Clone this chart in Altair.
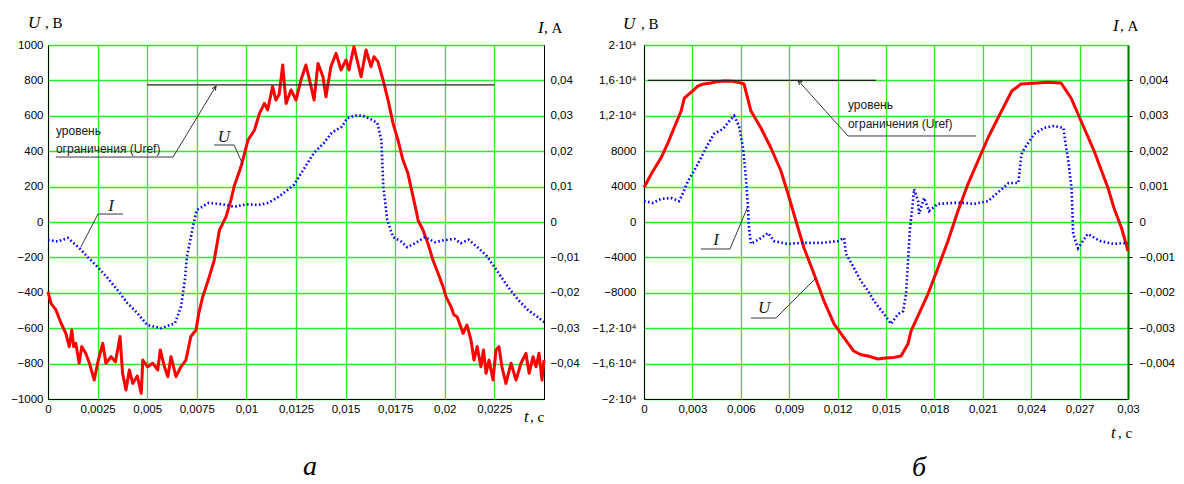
import altair as alt
import pandas as pd

# ---------------- Panel "а" (left) ----------------
a_U_t = [0, 0.00015, 0.0004, 0.00066, 0.0009, 0.00107, 0.0012, 0.00129, 0.0014, 0.00157,
         0.0017, 0.0019, 0.00209, 0.00233, 0.0025, 0.00276, 0.00292, 0.00318, 0.0034, 0.00363,
         0.00376, 0.00393, 0.0041, 0.00427, 0.0045, 0.0047, 0.00478, 0.00502, 0.00528, 0.00553,
         0.00566, 0.00587, 0.00604, 0.0062, 0.00645, 0.0067, 0.00695, 0.0072, 0.00746, 0.0076,
         0.0078, 0.00813, 0.00838, 0.00864, 0.00897, 0.00922, 0.00938, 0.00973, 0.01008, 0.01041,
         0.01066, 0.01091, 0.01107, 0.01132, 0.01149, 0.01165, 0.01183, 0.012, 0.01225, 0.0125,
         0.01275, 0.013, 0.01326, 0.01341, 0.01361, 0.01386, 0.01401, 0.01426, 0.01452, 0.01477,
         0.01502, 0.01517, 0.01542, 0.01578, 0.01603, 0.01628, 0.01643, 0.01663, 0.01689, 0.01714,
         0.01739, 0.01764, 0.01789, 0.01814, 0.0184, 0.01855, 0.01865, 0.0189, 0.01915, 0.0194,
         0.01966, 0.01991, 0.02006, 0.02031, 0.02046, 0.02062, 0.02092, 0.02112, 0.02132, 0.02147,
         0.02163, 0.02182, 0.02195, 0.02208, 0.02223, 0.02243, 0.02258, 0.02273, 0.02288, 0.02308,
         0.02334, 0.02359, 0.02384, 0.02409, 0.02425, 0.02445, 0.0246, 0.02475, 0.0249, 0.025]
a_U = [-393, -460, -497, -572, -629, -704, -610, -704, -685, -798,
       -704, -742, -798, -893, -798, -685, -798, -761, -790, -647,
       -855, -949, -836, -912, -870, -968, -780, -818, -798, -836,
       -723, -818, -874, -761, -874, -818, -780, -647, -610, -516,
       -422, -309, -215, -46, 29, 124, 200, 313, 463, 520,
       614, 670, 633, 765, 689, 720, 887, 670, 746, 689,
       802, 887, 765, 689, 896, 821, 708, 878, 953, 859,
       915, 859, 990, 821, 972, 878, 934, 906, 802, 689,
       557, 463, 350, 275, 143, 68, 11, -45, -121, -215,
       -290, -365, -422, -478, -525, -535, -629, -582, -667, -780,
       -704, -818, -723, -855, -780, -893, -723, -704, -818, -912,
       -798, -893, -798, -742, -855, -761, -818, -742, -893, -780]

a_I_t = [0, 0.0005, 0.001, 0.0016, 0.002, 0.0025, 0.003, 0.0035, 0.004, 0.0045,
         0.005, 0.0057, 0.0064, 0.0067, 0.0069, 0.007, 0.0073, 0.0075, 0.0081, 0.0088,
         0.0094, 0.01, 0.0106, 0.0111, 0.0116, 0.0124, 0.0128, 0.0134, 0.0139, 0.0143,
         0.0148, 0.0151, 0.0156, 0.016, 0.0166, 0.0168, 0.0169, 0.0171, 0.0174, 0.0178,
         0.0181, 0.0185, 0.019, 0.0195, 0.02, 0.0205, 0.0208, 0.0212, 0.0217, 0.0221,
         0.0225, 0.0229, 0.0233, 0.0237, 0.0242, 0.0246, 0.025]
a_I = [-0.0051, -0.0055, -0.0045, -0.0075, -0.0099, -0.0127, -0.0158, -0.0192, -0.0229, -0.0257,
       -0.0291, -0.03, -0.0286, -0.024, -0.0164, -0.0099, -0.0014, 0.0034, 0.0054, 0.005,
       0.0043, 0.005, 0.0048, 0.0054, 0.007, 0.0105, 0.0141, 0.0195, 0.0223, 0.0252,
       0.0269, 0.0294, 0.0302, 0.0298, 0.028, 0.0232, 0.01, 0.0006, -0.0043, -0.0055,
       -0.0071, -0.006, -0.0043, -0.0057, -0.0051, -0.0048, -0.006, -0.005, -0.0074, -0.0095,
       -0.0127, -0.016, -0.0192, -0.022, -0.0249, -0.0265, -0.0283]

a_t_ticks = [0, 0.0025, 0.005, 0.0075, 0.01, 0.0125, 0.015, 0.0175, 0.02, 0.0225]
a_U_ticks = [-1000, -800, -600, -400, -200, 0, 200, 400, 600, 800, 1000]
a_I_ticks = [-0.04, -0.03, -0.02, -0.01, 0, 0.01, 0.02, 0.03, 0.04]

# annotation segments (t1, U1, t2, U2, width)
a_segments = [
    (0.005, 775, 0.0225, 775, 1.4),
    (0.0063, 367, 0.00847, 768, 0.9),
    (0.0004, 367, 0.0063, 367, 0.9),
    (0.00837, 435, 0.00938, 435, 0.9),
    (0.00938, 435, 0.00983, 322, 0.9),
    (0.00252, 45, 0.00378, 45, 0.9),
    (0.00252, 45, 0.00166, -141, 0.9),
]
a_arrow = [(0.00847, 768, 32)]
a_notes = [(0.0004, 491, "уровень"), (0.0004, 390, "ограничения (Uref)")]
a_letters = [(0.00887, 452, "U"), (0.00318, 62, "I")]

# ---------------- Panel "б" (right) ----------------
b_U_t = [0, 0.0005, 0.00105, 0.0015, 0.00186, 0.0023, 0.0025, 0.003, 0.00335, 0.0037,
         0.00415, 0.0045, 0.005, 0.0055, 0.0058, 0.0062, 0.00663, 0.00725, 0.00787, 0.00849,
         0.00893, 0.00942, 0.00992, 0.01054, 0.01116, 0.01178, 0.0124, 0.013, 0.01345, 0.01388,
         0.0145, 0.015, 0.0155, 0.01593, 0.01636, 0.01655, 0.0176, 0.01822, 0.01884, 0.01946,
         0.02008, 0.0207, 0.02132, 0.02194, 0.0228, 0.02337, 0.0244, 0.025, 0.02585, 0.02647,
         0.02709, 0.0279, 0.02876, 0.02913, 0.0296, 0.03]
b_U = [3900, 5600, 7230, 9000, 10620, 12540, 14000, 14800, 15370, 15600,
       15700, 15850, 15930, 15900, 15800, 15590, 12540, 10620, 8360, 5760,
       3160, 110, -2940, -5880, -8930, -11520, -13100, -14580, -15000, -15140,
       -15480, -15370, -15300, -15140, -13790, -12320, -8140, -5200, -2150, 1240,
       4290, 6890, 9490, 11750, 14800, 15590, 15710, 15800, 15710, 14010,
       11410, 8020, 3840, 1580, -680, -3280]

b_I_t = [0, 0.00056, 0.00105, 0.00167, 0.00217, 0.00242, 0.00273, 0.0031, 0.00353, 0.00397,
         0.00434, 0.0049, 0.00539, 0.00558, 0.00589, 0.00614, 0.00632, 0.00645, 0.00651, 0.00663,
         0.00725, 0.00769, 0.00806, 0.00893, 0.00973, 0.01097, 0.01203, 0.0124, 0.01252, 0.01302,
         0.01345, 0.01389, 0.01426, 0.01488, 0.01531, 0.01575, 0.01606, 0.01624, 0.01637, 0.01649,
         0.01667, 0.01674, 0.01699, 0.01705, 0.01736, 0.01767, 0.01822, 0.01922, 0.01984, 0.02046,
         0.02132, 0.0217, 0.0226, 0.0232, 0.0234, 0.0236, 0.0242, 0.0248, 0.0254, 0.026,
         0.0261, 0.0263, 0.0265, 0.02655, 0.0266, 0.0269, 0.0275, 0.0283, 0.0291, 0.0299, 0.03]
b_I = [0.00059, 0.00054, 0.00065, 0.00068, 0.00059, 0.00082, 0.00116, 0.00144, 0.00181, 0.0022,
       0.00249, 0.00263, 0.00291, 0.003, 0.00271, 0.00209, 0.00124, 0.0004, -0.00017, -0.00062,
       -0.00045, -0.00031, -0.00054, -0.00062, -0.00059, -0.00059, -0.00054, -0.00045, -0.0009, -0.0013,
       -0.00167, -0.00195, -0.00223, -0.0026, -0.00288, -0.0026, -0.00252, -0.00204, -0.0011, -0.00017,
       0.00059, 0.00093, 0.00059, 0.00023, 0.00068, 0.00031, 0.00051, 0.00054, 0.00054, 0.00051,
       0.00059, 0.00074, 0.0011, 0.0011, 0.00192, 0.00209, 0.00249, 0.00266, 0.00271, 0.00266,
       0.00229, 0.00172, 0.00096, 0.0004, -0.00034, -0.00074, -0.00034, -0.00054, -0.00062, -0.00059, -0.0006]

b_t_ticks = [0, 0.003, 0.006, 0.009, 0.012, 0.015, 0.018, 0.021, 0.024, 0.027, 0.03]
b_U_ticks = [-20000, -16000, -12000, -8000, -4000, 0, 4000, 8000, 12000, 16000, 20000]
b_I_ticks = [-0.004, -0.003, -0.002, -0.001, 0, 0.001, 0.002, 0.003, 0.004]

b_segments = [
    (0.00025, 16000, 0.01438, 16000, 1.4),
    (0.01264, 9720, 0.00955, 16000, 0.9),
    (0.01264, 9720, 0.02058, 9720, 0.9),
    (0.00353, -3050, 0.00533, -3050, 0.9),
    (0.00533, -3050, 0.00645, 1810, 0.9),
    (0.00663, -10850, 0.00818, -10850, 0.9),
    (0.00818, -10850, 0.01066, -6330, 0.9),
]
b_arrow = [(0.00955, 16000, 317)]
b_notes = [(0.01264, 12770, "уровень"), (0.01264, 10620, "ограничения (Uref)")]
b_letters = [(0.00446, -2600, "I"), (0.00744, -10280, "U")]

GREEN = "#2aec2a"
SANS = "Liberation Sans"
SERIF = "Liberation Serif"
TICK_FS = 11.5


def ptext(x, y, s, size=15, italic=False, align="left"):
    return alt.Chart(pd.DataFrame({"s": [s]})).mark_text(
        font=SERIF, fontSize=size, fontStyle="italic" if italic else "normal",
        align=align, baseline="alphabetic", color="black"
    ).encode(x=alt.value(x), y=alt.value(y), text="s:N")


def panel(U_t, U_v, I_t, I_v, t_max, t_ticks, u_max, u_ticks, u_expr,
          i_max, i_ticks, segments, arrow, notes, letters, width, height,
          right_color, right_width, right_ticks, right_pad, left_pad, outer):
    xs = alt.Scale(domain=[0, t_max], nice=False, zero=False)
    ys = alt.Scale(domain=[-u_max, u_max], nice=False, zero=False)
    xaxis = alt.Axis(values=t_ticks, labelExpr="replace(toString(datum.value), '.', ',')",
                     grid=True, gridColor=GREEN, gridWidth=1.3, ticks=False,
                     domainColor="black", domainWidth=1, labelFont=SANS, labelFontSize=TICK_FS,
                     labelColor="black", labelPadding=4, title=None, labelFlush=False,
                     labelOverlap=False)
    yaxis = alt.Axis(values=u_ticks, labelExpr=u_expr, grid=True, gridColor=GREEN,
                     gridWidth=1.3, ticks=False, domainColor="black", domainWidth=1,
                     labelFont=SANS, labelFontSize=TICK_FS, labelColor="black",
                     labelPadding=left_pad, title=None, labelOverlap=False)

    def X(f):
        return alt.X(f, scale=xs, axis=xaxis, title=None)

    def Y(f):
        return alt.Y(f, scale=ys, axis=yaxis, title=None)

    red = alt.Chart(pd.DataFrame({"t": U_t, "U": U_v})).mark_line(
        color="#ff0000", strokeWidth=3, strokeJoin="round"
    ).encode(x=X("t:Q"), y=Y("U:Q"))

    seg_df = pd.DataFrame(segments, columns=["t1", "U1", "t2", "U2", "w"])
    rules = alt.Chart(seg_df).mark_rule(color="#222222").encode(
        x=X("t1:Q"), x2="t2:Q", y=Y("U1:Q"), y2="U2:Q",
        strokeWidth=alt.StrokeWidth("w:Q", scale=None))
    arr = alt.Chart(pd.DataFrame(arrow, columns=["t", "U", "a"])).mark_point(
        shape="M-0.45,1L0,0L0.45,1", filled=False, size=70, color="#222222",
        strokeWidth=1, opacity=1
    ).encode(x=X("t:Q"), y=Y("U:Q"), angle=alt.Angle("a:Q", scale=None))
    note = alt.Chart(pd.DataFrame(notes, columns=["t", "U", "s"])).mark_text(
        font=SANS, fontSize=12, align="left", baseline="alphabetic", color="#1a1a1a"
    ).encode(x=X("t:Q"), y=Y("U:Q"), text="s:N")
    lett = alt.Chart(pd.DataFrame(letters, columns=["t", "U", "s"])).mark_text(
        font=SERIF, fontSize=17, fontStyle="italic", align="center", baseline="alphabetic",
        color="#1a1a1a"
    ).encode(x=X("t:Q"), y=Y("U:Q"), text="s:N")

    inner = alt.layer(red, rules, arr, note, lett, *outer)

    iaxis = alt.Axis(orient="right", values=i_ticks,
                     labelExpr="(datum.value < 0 ? '\u2212' : '') + replace(toString(abs(datum.value)), '.', ',')",
                     grid=False, ticks=right_ticks, tickSize=4, tickColor="black",
                     domainColor=right_color, domainWidth=right_width, labelFont=SANS,
                     labelFontSize=TICK_FS, labelColor="black", labelPadding=right_pad,
                     title=None, labelOverlap=False)
    blue = alt.Chart(pd.DataFrame({"t": I_t, "I": I_v})).mark_line(
        color="#0000ff", strokeWidth=2.6, strokeDash=[1.6, 2.4]
    ).encode(x=X("t:Q"),
             y=alt.Y("I:Q", scale=alt.Scale(domain=[-i_max, i_max], nice=False, zero=False),
                     axis=iaxis, title=None))
    return alt.layer(inner, blue).resolve_scale(y="independent").properties(
        width=width, height=height)


u_expr_a = "(datum.value < 0 ? '\u2212' : '') + toString(abs(datum.value))"
u_expr_b = ("(datum.value < 0 ? '\u2212' : '') + (abs(datum.value) >= 12000 ? "
            "replace(toString(abs(datum.value) / 10000), '.', ',') + '\u00b710\u2074' : "
            "toString(abs(datum.value)))")

outer_a = [
    ptext(-20, -17, "U", 17, True), ptext(-3, -17, ", В", 15),
    ptext(490, -12, "I", 17, True), ptext(496, -12, ", А", 15),
    ptext(476, 377, "t", 17, True), ptext(482, 377, ", с", 15),
    ptext(262, 430, "а", 28, True, "center"),
]
outer_b = [
    ptext(-21, -16, "U", 17, True), ptext(-3, -16, ", В", 15),
    ptext(469, -14, "I", 17, True), ptext(476, -14, ", А", 15),
    ptext(467, 393, "t", 17, True), ptext(474, 393, ", с", 15),
    ptext(275, 431, "б", 28, True, "center"),
]

left = panel(a_U_t, a_U, a_I_t, a_I, 0.025, a_t_ticks, 1000, a_U_ticks, u_expr_a,
             0.05, a_I_ticks, a_segments, a_arrow, a_notes, a_letters, 496, 354,
             "black", 1, False, 6, 5, outer_a)
right = panel(b_U_t, b_U, b_I_t, b_I, 0.03, b_t_ticks, 20000, b_U_ticks, u_expr_b,
              0.005, b_I_ticks, b_segments, b_arrow, b_notes, b_letters, 484, 354,
              "#007a00", 2, True, 7, 8, outer_b)

chart = alt.hconcat(left, right, spacing=100, bounds="flush").configure_view(
    stroke="black", strokeWidth=1
).properties(padding={"left": 2, "top": 5, "right": 0, "bottom": 0})

chart.save("out.html", embed_options={"renderer": "svg", "actions": False})
